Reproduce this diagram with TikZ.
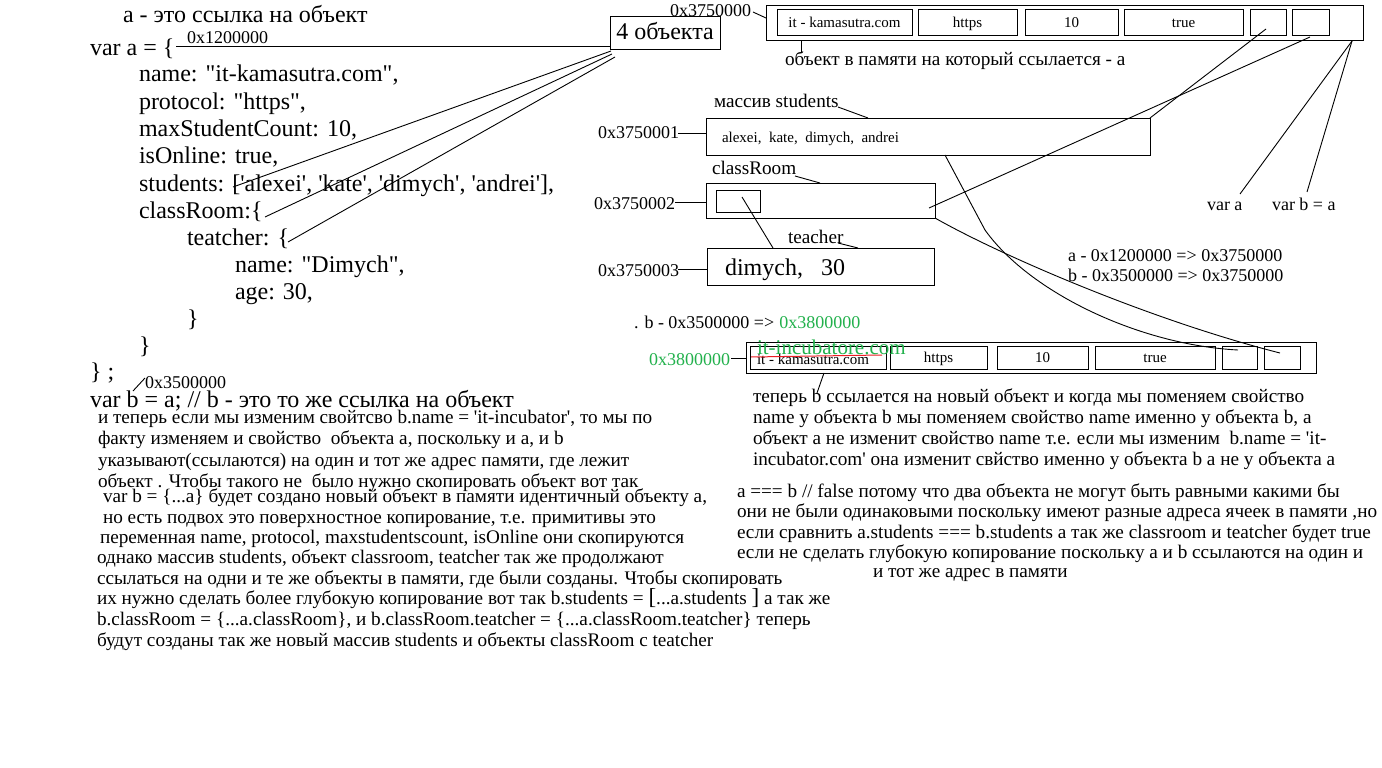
\documentclass[tikz,border=0pt]{standalone}
\usepackage{fontspec}
\newfontfamily\tnr{Liberation Serif}
\definecolor{pgreen}{RGB}{34,177,76}
\definecolor{pred}{RGB}{237,28,36}
\tikzset{
  tbig/.style={font=\tnr\fontsize{24}{27}\selectfont, inner sep=0pt, outer sep=0pt, anchor=base west, yshift=-1.5pt},
  tmid/.style={font=\tnr\fontsize{18}{21}\selectfont, inner sep=0pt, outer sep=0pt, anchor=base west, yshift=-1pt},
  tpar/.style={font=\tnr\fontsize{19.2}{21}\selectfont, inner sep=0pt, outer sep=0pt, anchor=base west, yshift=-1.5pt},
  tgrn/.style={font=\tnr\fontsize{21}{24}\selectfont, inner sep=0pt, outer sep=0pt, anchor=base west, text=pgreen},
  tsml/.style={font=\tnr\fontsize{15}{18}\selectfont, inner sep=0pt, outer sep=0pt, anchor=base west},
  mbox/.style={draw, line width=1pt, inner sep=0pt, outer sep=0pt, anchor=north west, font=\tnr\fontsize{15}{18}\selectfont, text height=13pt, text depth=3pt},
  conn/.style={line width=0.9pt},
}
\begin{document}
\begin{tikzpicture}[x=1pt,y=-1pt]
\useasboundingbox (0,0) rectangle (1382,768);
\fill[white] (0,0) rectangle (1382,768);

% ---------- code on the left ----------
\node[tbig] (hdr) at (123,21) {a - это ссылка на объект};
\node[tbig] (vara) at (90,54) {var a = \{};
\node[tmid] (adra) at (187,43) {0x1200000};
\node[tbig] (l1) at (139,80) {name: "it-kamasutra.com",};
\node[tbig] (l2) at (139,108) {protocol: "https",};
\node[tbig] (l3) at (139,135) {maxStudentCount: 10,};
\node[tbig] (l4) at (139,162) {isOnline: true,};
\node[tbig] (l5) at (139,190) {students: ['alexei', 'kate', 'dimych', 'andrei'],};
\node[tbig] (l6) at (139,217) {classRoom:\{};
\node[tbig] (l7) at (187,244) {teatcher: \{};
\node[tbig] (l8) at (235,271) {name: "Dimych",};
\node[tbig] (l9) at (235,298) {age: 30,};
\node[tbig] (l10) at (187,325) {\}};
\node[tbig] (l11) at (139,352) {\}};
\node[tbig] (l12) at (90,378) {\} ;};
\node[tmid] (adrb) at (145,387) {0x3500000};
\node[tbig] (varb) at (90,406) {var b = a; // b - это то же ссылка на объект};

% ---------- 4 objects box ----------
\node[mbox, minimum width=110pt, minimum height=33pt, font=\tnr\fontsize{24}{27}\selectfont, text height=17pt, text depth=5pt] (four) at (610,17) {4 объекта};
\coordinate (vaend) at (176,46);
\draw[conn] (vaend) -- (four.west |- vaend);
\coordinate (fs1) at (611,51);
\coordinate (fs2) at (612,54);
\coordinate (fs3) at (615,57);
\coordinate (fe1) at (233,187);
\coordinate (fe2) at (265,217);
\coordinate (fe3) at (288,242);
\draw[conn] (fs1) -- (fe1);
\draw[conn] (fs2) -- (fe2);
\draw[conn] (fs3) -- (fe3);
\coordinate (bstart) at (133,391);
\coordinate (bend) at (145,378);
\draw[conn] (bstart) -- (bend);

% ---------- left paragraph ----------
\node[tpar] (p1) at (98,422) {и теперь если мы изменим свойтсво b.name = 'it-incubator', то мы по};
\node[tpar] (p2) at (98,443) {факту изменяем и свойство\ \ объекта a, поскольку и a, и b};
\node[tpar] (p3) at (98,465) {указывают(ссылаются) на один и тот же адрес памяти, где лежит};
\node[tpar] (p4) at (98,486) {объект . Чтобы такого не\ \ было нужно скопировать объект вот так};
\node[tpar] (p5) at (103,501) {var b = \{...a\} будет создано новый объект в памяти идентичный объекту a,};
\node[tpar] (p6) at (103,522) {но есть подвох это поверхностное копирование, т.е. примитивы это};
\node[tpar] (p7) at (100,542) {переменная name, protocol, maxstudentscount, isOnline они скопируются};
\node[tpar] (p8) at (97,562) {однако массив students, объект classroom, teatcher так же продолжают};
\node[tpar] (p9) at (97,583) {ссылаться на одни и те же объекты в памяти, где были созданы. Чтобы скопировать};
\node[tpar] (p10) at (97,603) {их нужно сделать более глубокую копирование вот так b.students = {\fontsize{23}{23}\selectfont[}...a.students {\fontsize{23}{23}\selectfont]} а так же};
\node[tpar] (p11) at (97,624) {b.classRoom = \{...a.classRoom\}, и b.classRoom.teatcher = \{...a.classRoom.teatcher\} теперь};
\node[tpar] (p12) at (97,645) {будут созданы так же новый массив students и объекты classRoom с teatcher};

% ---------- top memory object ----------
\node[tmid] (adr0) at (670,16) {0x3750000};
\node[mbox, minimum width=597pt, minimum height=35pt] (topbox) at (766,6) {};
\node[mbox, minimum width=135pt, minimum height=26pt] (c1) at (777,10) {it - kamasutra.com};
\node[mbox, minimum width=99pt, minimum height=26pt] (c2) at (918,10) {https};
\node[mbox, minimum width=93pt, minimum height=26pt] (c3) at (1025,10) {10};
\node[mbox, minimum width=119pt, minimum height=26pt] (c4) at (1124,10) {true};
\node[mbox, minimum width=36pt, minimum height=26pt] (c5) at (1250,10) {};
\node[mbox, minimum width=37pt, minimum height=26pt] (c6) at (1292,10) {};
\coordinate (a0s) at (753,12);
\coordinate (a0e) at (766,18);
\draw[conn] (a0s) -- (a0e);
\node[tpar] (memA) at (785,64) {объект в памяти на который ссылается - a};
\coordinate (membot) at (801,41);
\coordinate (memtop) at (801,53);
\draw[conn] (membot) -- (memtop);

% ---------- students ----------
\node[tpar] (lblst) at (714,106) {массив students};
\node[mbox, minimum width=444pt, minimum height=37pt] (stbox) at (706,118) {};
\node[tsml] (sttxt) at (722,142) {alexei,\ \ kate,\ \ dimych,\ \ andrei};
\node[tmid] (adr1) at (598,138) {0x3750001};
\coordinate (lst1) at (838,107);
\coordinate (lst2) at (868,118);
\draw[conn] (lst1) -- (lst2);
\coordinate (a1e) at (678,133);
\draw[conn] (a1e) -- (stbox.west |- a1e);

% ---------- classRoom ----------
\node[tpar] (lblcr) at (712,173) {classRoom};
\node[mbox, minimum width=229pt, minimum height=35pt] (crbox) at (706,183) {};
\node[mbox, minimum width=44pt, minimum height=22pt] (crin) at (716,190) {};
\node[tmid] (adr2) at (594,208) {0x3750002};
\coordinate (lcr1) at (795,176);
\coordinate (lcr2) at (820,183);
\draw[conn] (lcr1) -- (lcr2);
\coordinate (a2e) at (675,202);
\draw[conn] (a2e) -- (crbox.west |- a2e);

% ---------- teacher ----------
\node[tpar] (lblt) at (788,242) {teacher};
\node[mbox, minimum width=227pt, minimum height=37pt] (tbox) at (707,248) {};
\node[tbig] (ttxt) at (725,274) {dimych,\ \ \ 30};
\node[tmid] (adr3) at (598,275) {0x3750003};
\coordinate (lt1) at (838,243);
\coordinate (lt2) at (858,248);
\draw[conn] (lt1) -- (lt2);
\coordinate (a3e) at (678,269);
\draw[conn] (a3e) -- (tbox.west |- a3e);
\coordinate (crinc) at (742,197);
\coordinate (ttop) at (773,248);
\draw[conn] (crinc) -- (ttop);

% ---------- links from top object ----------
\coordinate (c5p) at (1266,29);
\coordinate (c6p) at (1310,37);
\coordinate (crp) at (929,208);
\coordinate (trc) at (1352,41);
\draw[conn] (c5p) -- (stbox.north east);
\draw[conn] (c6p) -- (crp);
\node[tmid] (vA) at (1207,209) {var a};
\node[tmid] (vB) at (1272,209) {var b = a};
\coordinate (vAt) at (1240,194);
\coordinate (vBt) at (1307,192);
\draw[conn] (trc) -- (vAt);
\draw[conn] (trc) -- (vBt);
\node[tmid] (ra) at (1068,260) {a - 0x1200000 => 0x3750000};
\node[tmid] (rb) at (1068,280) {b - 0x3500000 => 0x3750000};

% ---------- new object ----------
\node[tmid] (nb) at (634,327) {. b - 0x3500000 =>};
\node[tmid, text=pgreen, xshift=5pt, yshift=1pt] (nbg) at (nb.base east) {0x3800000};
\node[tmid, text=pgreen] (adrN) at (649,364) {0x3800000};
\node[mbox, minimum width=570pt, minimum height=31pt] (lowbox) at (746,342) {};
\node[mbox, minimum width=136pt, minimum height=23pt] (d1) at (750,346) {};
\node[tsml] (d1t) at (757,364) {it - kamasutra.com};
\node[mbox, minimum width=97pt, minimum height=23pt] (d2) at (890,346) {https};
\node[mbox, minimum width=91pt, minimum height=23pt] (d3) at (997,346) {10};
\node[mbox, minimum width=120pt, minimum height=23pt] (d4) at (1095,346) {true};
\node[mbox, minimum width=35pt, minimum height=23pt] (d5) at (1222,346) {};
\node[mbox, minimum width=36pt, minimum height=23pt] (d6) at (1264,346) {};
\coordinate (rs1) at (751,357);
\coordinate (rs2) at (882,355);
\draw[pred, line width=1pt] (rs1) -- (rs2);
\node[tgrn] (inc) at (757,354) {it-incubatore.com};
\coordinate (aNe) at (731,358);
\draw[conn] (aNe) -- (lowbox.west |- aNe);

% curves to new object
\coordinate (sb) at (945,155);
\coordinate (sk) at (985,230);
\coordinate (d5p) at (1238,350);
\draw[conn] (sb) -- (sk) .. controls (1030,293) and (1140,345) .. (d5p);
\coordinate (crb) at (935,218);
\coordinate (d6p) at (1280,353);
\draw[conn] (crb) .. controls (1000,255) and (1150,320) .. (d6p);

% ---------- right paragraph ----------
\coordinate (lb1) at (824,373);
\coordinate (lb2) at (817,393);
\draw[conn] (lb1) -- (lb2);
\node[tpar] (q1) at (753,401) {теперь b ссылается на новый объект и когда мы поменяем свойство};
\node[tpar] (q2) at (753,422) {name у объекта b мы поменяем свойство name именно у объекта b, а};
\node[tpar] (q3) at (753,443) {объект a не изменит свойство name т.е. если мы изменим\ \ b.name = 'it-};
\node[tpar] (q4) at (753,464) {incubator.com' она изменит свйство именно у объекта b а не у объекта a};
\node[tpar] (r1) at (737,496) {a === b // false потому что два объекта не могут быть равными какими бы};
\node[tpar] (r2) at (737,516) {они не были одинаковыми поскольку имеют разные адреса ячеек в памяти ,но};
\node[tpar] (r3) at (737,537) {если сравнить a.students === b.students а так же classroom и teatcher будет true};
\node[tpar] (r4) at (737,557) {если не сделать глубокую копирование поскольку a и b ссылаются на один и};
\node[tpar] (r5) at (873,576) {и тот же адрес в памяти};
\end{tikzpicture}
\end{document}
